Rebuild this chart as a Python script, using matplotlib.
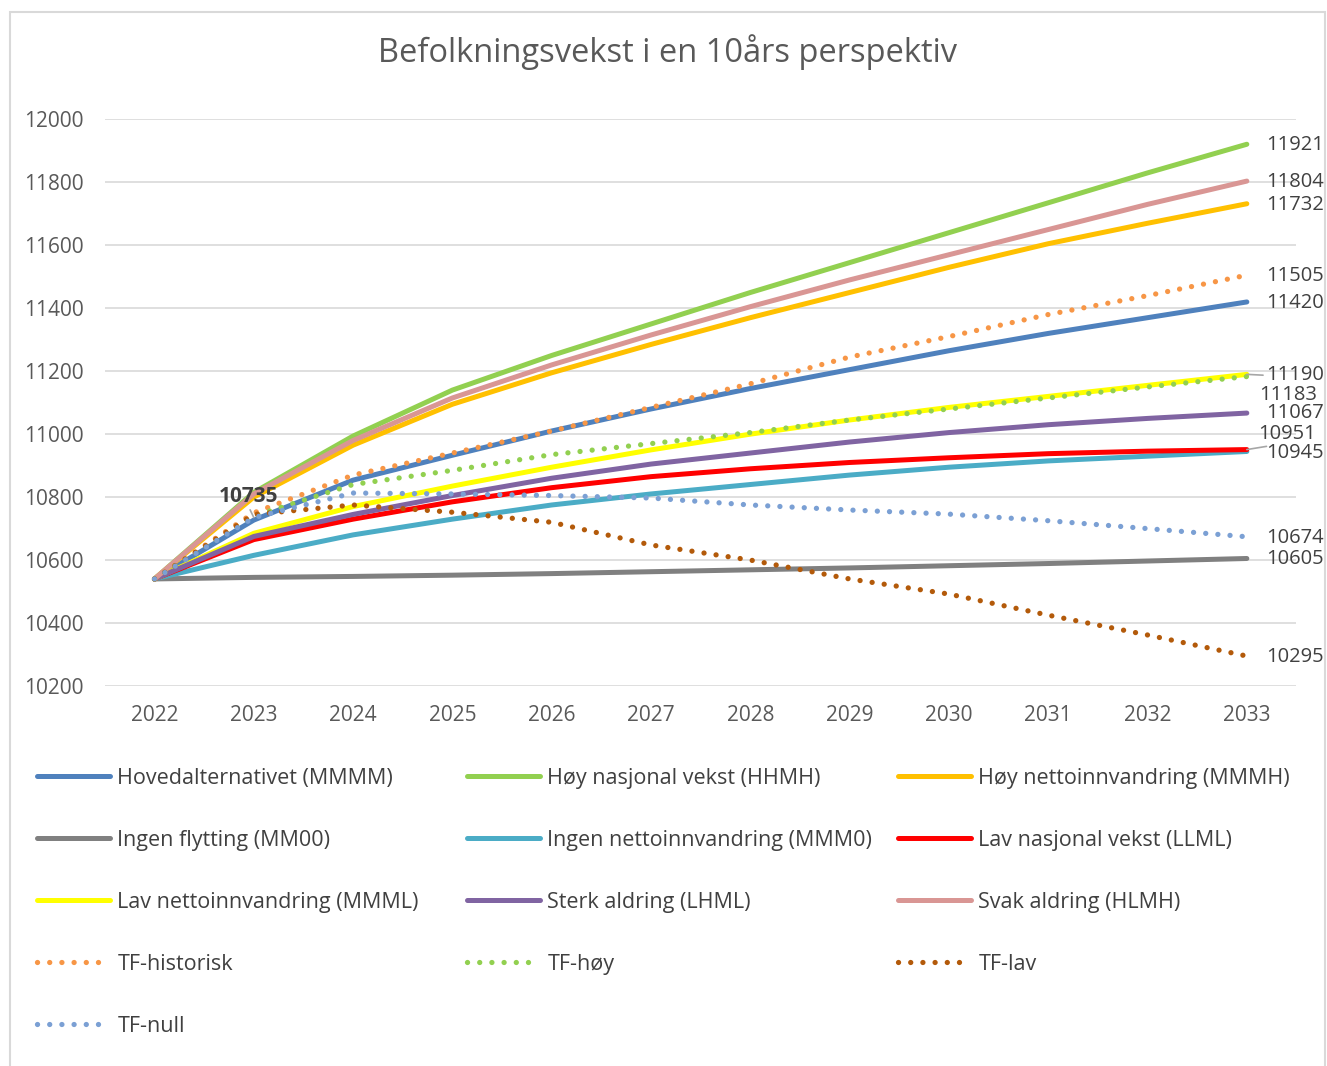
import matplotlib.pyplot as plt
from matplotlib.patches import Rectangle

plt.rcParams['font.family'] = ['Open Sans', 'DejaVu Sans']

# data
years = list(range(2022, 2034))
hoved = [10540, 10727, 10854, 10933, 11010, 11080, 11145, 11205, 11265, 11320, 11370, 11420]
hoy_nasj = [10540, 10815, 10994, 11140, 11250, 11350, 11450, 11545, 11640, 11735, 11830, 11921]
hoy_netto = [10540, 10800, 10965, 11095, 11195, 11285, 11370, 11450, 11530, 11605, 11670, 11732]
ingen_flytt = [10540, 10545, 10548, 10552, 10557, 10563, 10569, 10575, 10582, 10589, 10597, 10605]
ingen_netto = [10540, 10615, 10680, 10730, 10775, 10810, 10840, 10870, 10895, 10915, 10930, 10945]
lav_nasj = [10540, 10665, 10730, 10785, 10830, 10865, 10890, 10910, 10925, 10938, 10946, 10951]
lav_netto = [10540, 10685, 10770, 10835, 10895, 10950, 11000, 11045, 11085, 11120, 11155, 11190]
sterk = [10540, 10675, 10745, 10805, 10860, 10905, 10940, 10975, 11005, 11030, 11050, 11067]
svak = [10540, 10810, 10980, 11115, 11220, 11315, 11405, 11490, 11570, 11650, 11730, 11804]
tf_hist = [10540, 10750, 10870, 10940, 11010, 11085, 11160, 11245, 11310, 11380, 11440, 11505]
tf_hoy = [10540, 10740, 10840, 10885, 10935, 10970, 11005, 11045, 11080, 11115, 11150, 11183]
tf_lav = [10540, 10745, 10775, 10752, 10720, 10648, 10600, 10540, 10492, 10425, 10362, 10295]
tf_null = [10540, 10735, 10813, 10810, 10805, 10797, 10775, 10759, 10746, 10725, 10700, 10674]

names = ["Hovedalternativet (MMMM)", "Høy nasjonal vekst (HHMH)", "Høy nettoinnvandring (MMMH)",
         "Ingen flytting (MM00)", "Ingen nettoinnvandring (MMM0)", "Lav nasjonal vekst (LLML)",
         "Lav nettoinnvandring (MMML)", "Sterk aldring (LHML)", "Svak aldring (HLMH)",
         "TF-historisk", "TF-høy", "TF-lav", "TF-null"]
series = [hoved, hoy_nasj, hoy_netto, ingen_flytt, ingen_netto, lav_nasj, lav_netto,
          sterk, svak, tf_hist, tf_hoy, tf_lav, tf_null]
colors = ["#4F81BD", "#92D050", "#FFC000", "#808080", "#4BACC6", "#FF0000", "#FFFF00",
          "#8064A2", "#D99694", "#F79646", "#92D050", "#B35A0A", "#7BA0D4"]
dotted = [False] * 9 + [True] * 4

fig = plt.figure(figsize=(13.27, 10.66), dpi=100)
ax = fig.add_axes([0.079, 0.3565, 0.898, 0.5315])

handles = []
for navn, vals, c, dot in zip(names, series, colors, dotted):
    if dot:
        h, = ax.plot(years, vals, color=c, lw=3.8, linestyle=(0, (0.01, 2.3)),
                     dash_capstyle='round', label=navn)
    else:
        h, = ax.plot(years, vals, color=c, lw=3.6, solid_capstyle='round',
                     solid_joinstyle='round', label=navn)
    handles.append(h)

ax.set_xlim(2021.5, 2033.5)
ax.set_ylim(10200, 12000)
ax.set_yticks(range(10200, 12001, 200))
ax.set_xticks(years)
ax.grid(axis='y', color='#D9D9D9', lw=1.2)
ax.set_axisbelow(True)
for s in ax.spines.values():
    s.set_visible(False)
ax.tick_params(length=0, labelsize=15, labelcolor='#595959')
ax.tick_params(axis='y', pad=15)
ax.tick_params(axis='x', pad=14)

fig.suptitle("Befolkningsvekst i en 10års perspektiv", x=0.503, y=0.968,
             fontsize=23.5, color='#595959')

# end labels
txt = dict(fontsize=14.5, color='#404040', va='center', ha='left', textcoords='offset pixels')
offsets = {11190: (19, -1), 11183: (12, -18), 11067: (19, 0), 10951: (11, 16), 10945: (19, -2)}
for vals in series:
    v = vals[-1]
    dx, dy = offsets.get(v, (19, -1))
    if v == 11190:
        ax.annotate(str(v), xy=(years[-1], v), xytext=(dx, dy),
                    arrowprops=dict(arrowstyle='-', color='#A6A6A6', lw=1.2,
                                    relpos=(0.35, 0.45), shrinkA=0, shrinkB=0), **txt)
    elif v == 10951:
        ax.annotate(str(v), xy=(years[-1], v), xytext=(dx, dy),
                    arrowprops=dict(arrowstyle='-', color='#A6A6A6', lw=1.2,
                                    relpos=(0.55, 0.05), shrinkA=0, shrinkB=0), **txt)
    else:
        ax.annotate(str(v), xy=(years[-1], v), xytext=(dx, dy), **txt)

ax.annotate(str(tf_null[1]), xy=(years[1], tf_null[1]), xytext=(-5, 21),
            textcoords='offset pixels', ha='center', va='center', fontsize=15,
            fontweight='bold', color='#404040',
            arrowprops=dict(arrowstyle='-', color='#A6A6A6', lw=1.2,
                            relpos=(0.5, 0.0), shrinkA=0, shrinkB=0))

# legend, three columns like Excel
cols = [[0, 3, 6, 9, 12], [1, 4, 7, 10], [2, 5, 8, 11]]
xs = [37, 467, 898]
for idx, x in zip(cols, xs):
    fig.legend([handles[i] for i in idx], [names[i] for i in idx],
               loc='upper left', bbox_to_anchor=(x / 1327, 1 - 768 / 1066),
               frameon=False, fontsize=15.5, handlelength=3.4, handletextpad=0.33,
               labelspacing=1.9, borderpad=0, borderaxespad=0, labelcolor='#404040')

fig.add_artist(Rectangle((10 / 1327, -0.01), 1315 / 1327, 1.0 - 12 / 1066 + 0.01,
                         transform=fig.transFigure, fill=False, edgecolor='#D9D9D9', lw=1.5))

fig.savefig("out.png", dpi=100)
